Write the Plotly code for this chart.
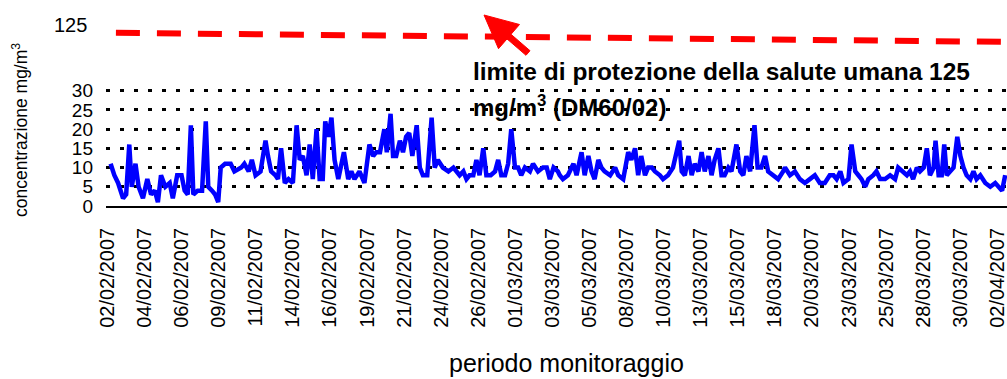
import plotly.graph_objects as go

# hours from start of monitoring (category position) and concentration values
ore = [5,11,17,25,30,35,39,45,50,57,64,70,76,81,86,93,100,105,112,119,124,129,134,138,145,152,158,162,168,173,
       178,182,189,198,204,215,220,227,232,238,246,254,258,263,270,274,279,285,291,298,304,309,314,320,325,330,336,341,346,350,355,360,365,
       371,380,387,392,397,405,413,421,427,432,438,445,449,455,459,464,470,475,480,485,490,497,502,507,514,521,526,531,539,548,
       556,566,572,577,582,588,593,598,604,609,616,623,628,633,639,644,649,655,660,665,671,679,684,692,700,706,711,717,724,
       727,732,740,749,754,762,767,773,778,783,789,794,799,808,816,821,829,837,842,848,853,858,864,869,875,880,888,893,901,909,
       919,923,928,934,939,944,950,955,960,966,971,976,982,987,992,998,1003,1011,1017,1022,1027,1033,1040,1045,1051,1057,1062,1070,1078,1086,
       1089,1097,1105,1113,1121,1129,1137,1145,1153,1161,1167,1172,1178,1183,1191,1196,1202,1207,1212,1218,1223,1231,1236,1242,1250,1258,1266,1271,1277,1285,
       1290,1295,1301,1306,1312,1317,1322,1328,1331,1336,1341,1345,1349,1354,1360,1366,1371,1376,1381,1387,1392,1397,1403,1411,1419,1427,1432,1438,1443]

concentrazione = [11,8,6,2,3,16,5,11,5,2,7,3,4,1,8,5,6,2,8,8,4,3,21,3,4,4,22,5,4,3,
                  1,10,11,11,9,10,11,9,12,8,9,17,13,9,8,7,15,6,7,6,21,12,13,8,16,7,20,7,7,22,18,23,12,
                  7,14,7,9,7,9,6,16,13,14,14,20,14,24,13,13,17,14,18,19,13,21,10,8,8,23,10,12,10,9,
                  10,8,9,7,8,8,12,8,15,8,8,9,12,8,8,11,20,10,10,8,10,9,11,9,10,10,7,10,9,
                  8,7,8,11,8,14,8,13,9,7,12,10,9,8,10,8,7,14,12,15,8,13,8,10,10,9,8,7,8,10,
                  17,9,8,13,8,11,9,14,9,13,8,12,15,8,8,10,9,16,9,8,13,9,21,10,10,13,9,8,7,9,
                  10,8,9,7,6,7,8,6,6,8,8,7,9,6,7,16,9,8,7,5,7,8,9,7,7,8,7,10,9,8,
                  9,7,10,9,10,15,8,10,17,8,8,16,8,9,10,18,13,10,8,7,9,7,8,6,5,6,5,4,8]

etichette_date = ["02/02/2007","04/02/2007","06/02/2007","09/02/2007","11/02/2007","14/02/2007",
                  "16/02/2007","19/02/2007","21/02/2007","24/02/2007","26/02/2007","01/03/2007",
                  "03/03/2007","05/03/2007","08/03/2007","10/03/2007","13/03/2007","15/03/2007",
                  "18/03/2007","20/03/2007","23/03/2007","25/03/2007","28/03/2007","30/03/2007",
                  "02/04/2007"]
ore_per_etichetta = 59.6
y_ticks = [0, 5, 10, 15, 20, 25, 30]
limite = 125

FONT = "Arial, Liberation Sans, sans-serif"

fig = go.Figure()
fig.add_trace(go.Scatter(x=ore, y=concentrazione, mode="lines",
                         line=dict(color="#0000FF", width=4.5), showlegend=False,
                         hoverinfo="skip"))

fig.update_layout(
    width=1007, height=379,
    margin=dict(l=106, r=0, t=0, b=173),
    paper_bgcolor="white", plot_bgcolor="white",
    font=dict(family=FONT, color="black"),
    xaxis=dict(range=[-2.41, 1445.9], tickmode="array",
               tickvals=[i * ore_per_etichetta for i in range(len(etichette_date))],
               ticktext=etichette_date, tickangle=-90, ticks="",
               tickfont=dict(size=20, family=FONT, color="black"),
               showgrid=False, zeroline=False, showline=True, linecolor="black",
               linewidth=1.5, ticklabelstandoff=12, ticklabeloverflow="allow",
               automargin=False),
    yaxis=dict(range=[0, 53.6], tickmode="array", tickvals=y_ticks,
               ticktext=[str(v) for v in y_ticks], ticks="",
               tickfont=dict(size=19, family=FONT, color="black"),
               showgrid=True, gridcolor="black", gridwidth=3, griddash="4px,10px",
               zeroline=False, showline=False, ticklabelstandoff=12, automargin=False),
)

# red dashed limit line (broken axis, drawn above the 0-30 scale)
fig.add_shape(type="line", xref="paper", yref="y", x0=0.011, x1=1.0, y0=45.05, y1=42.7,
              line=dict(color="#FF0000", width=6, dash="24px,17px"))

# arrow pointing at the limit line
fig.add_shape(type="path", xref="paper", yref="paper",
              xsizemode="pixel", ysizemode="pixel",
              xanchor=(484 - 106) / 901, yanchor=(206 - 15) / 206,
              path="M0,0 L35.5,-9.5 L27,-19.3 L46,-35.7 L42,-40.3 L23,-23.9 L14.5,-33.7 Z",
              fillcolor="#FF0000", line=dict(color="#FF0000", width=1))

fig.add_annotation(text=str(limite), xref="paper", yref="paper",
                   x=(89 - 106) / 901, y=(206 - 25) / 206, xanchor="right", yanchor="middle",
                   showarrow=False, font=dict(size=20, family=FONT, color="black"))
fig.add_annotation(text="<b>limite di protezione della salute umana 125</b>", xref="paper", yref="paper",
                   x=(471 - 106) / 901, y=(206 - 72) / 206, xanchor="left", yanchor="middle",
                   showarrow=False, font=dict(size=24.5, family=FONT, color="black"))
fig.add_annotation(text="<b>mg/m<sup>3</sup> (DM60/02)</b>", xref="paper", yref="paper",
                   x=(471 - 106) / 901, y=(206 - 106) / 206, xanchor="left", yanchor="middle",
                   showarrow=False, font=dict(size=24, family=FONT, color="black"))
fig.add_annotation(text="concentrazione mg/m<sup>3</sup>", xref="paper", yref="paper",
                   x=(20 - 106) / 901, y=(206 - 130) / 206, textangle=-90,
                   xanchor="center", yanchor="middle",
                   showarrow=False, font=dict(size=17.5, family=FONT, color="black"))
fig.add_annotation(text="periodo monitoraggio", xref="paper", yref="paper",
                   x=(566 - 106) / 901, y=(206 - 363) / 206,
                   xanchor="center", yanchor="middle",
                   showarrow=False, font=dict(size=25, family=FONT, color="black"))

fig.write_html("out.html", config={"displayModeBar": False},
               post_script="document.body.style.margin='0';document.body.style.overflow='hidden';")
